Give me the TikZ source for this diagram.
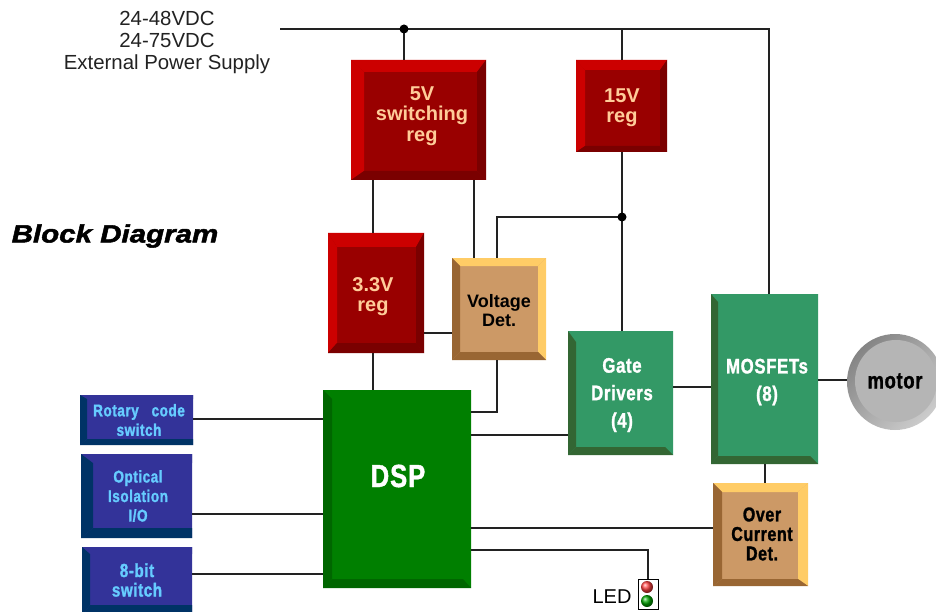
\documentclass[tikz,border=0pt]{standalone}
\usepackage{fontspec}
\setmainfont{Liberation Sans}
\newfontfamily\cnd{Liberation Sans}[FakeStretch=0.8,LetterSpace=3,FakeBold=1.3]
\newfontfamily\wideb{Liberation Sans}[FakeStretch=1.18,FakeBold=2]
\definecolor{redT}{HTML}{CC0000}\colorlet{redL}{redT}
\definecolor{redF}{HTML}{990000}
\definecolor{redB}{HTML}{7A0000}\colorlet{redR}{redB}
\definecolor{tanT}{HTML}{FFCC66}\colorlet{tanR}{tanT}
\definecolor{tanF}{HTML}{CC9966}
\definecolor{tanL}{HTML}{996633}\colorlet{tanB}{tanL}
\definecolor{seaF}{HTML}{339966}\colorlet{seaT}{seaF}\colorlet{seaR}{seaF}
\definecolor{seaL}{HTML}{336633}\colorlet{seaB}{seaL}
\definecolor{dspF}{HTML}{007F00}\colorlet{dspT}{dspF}\colorlet{dspR}{dspF}
\definecolor{dspL}{HTML}{006600}\colorlet{dspB}{dspL}
\definecolor{bluF}{HTML}{333399}\colorlet{bluT}{bluF}\colorlet{bluR}{bluF}
\definecolor{bluL}{HTML}{003366}\colorlet{bluB}{bluL}
\definecolor{peach}{HTML}{FFCC99}
\definecolor{sky}{HTML}{66CCFF}
\definecolor{wirec}{HTML}{222222}
% \bevbox{name}{x1}{y1}{x2}{y2}{inner l}{inner t}{inner r}{inner b}, palette in \pal
\newcommand{\bevbox}[9]{%
  \node[fill=\pal F,inner sep=0pt,anchor=north west,
        minimum width={(#4-#2)*1pt},minimum height={(#5-#3)*1pt}] (#1) at (#2,#3) {};
  \fill[\pal T] (#2,#3) -- (#4,#3) -- (#8,#7) -- (#6,#7) -- cycle;
  \fill[\pal R] (#4,#3) -- (#4,#5) -- (#8,#9) -- (#8,#7) -- cycle;
  \fill[\pal L] (#2,#3) -- (#2,#5) -- (#6,#9) -- (#6,#7) -- cycle;
  \fill[\pal B] (#2,#5) -- (#4,#5) -- (#8,#9) -- (#6,#9) -- cycle;
}
\tikzset{
  wire/.style={draw=wirec,line width=1.6pt},
  jdot/.style={circle,fill=black,inner sep=0pt,minimum size=9pt},
  lbl/.style={align=center,inner sep=0pt},
  regt/.style={lbl,text=peach,font=\fontsize{20}{20.5}\selectfont\bfseries},
  dett/.style={lbl,text=black,font=\fontsize{18}{19}\selectfont\bfseries},
  sea/.style={lbl,text=white,font=\fontsize{21}{27.5}\selectfont\cnd\bfseries},
  blu/.style={lbl,text=sky,font=\fontsize{17}{19.5}\selectfont\cnd\bfseries},
}
\begin{document}
\begin{tikzpicture}[x=1pt,y=-1pt]
\useasboundingbox (0,0) rectangle (936,612);
% wire channels
\foreach \n/\v in {v373/373,v404/404,v474/474,v497/497,v622/622,v769/769,v765/765,v648/648}
  \coordinate (\n) at (\v,0);
\foreach \n/\v in {h29/29,h217/217,h333/333,h387/387,h380/380,h412/412,h435/435,h419/419,h514/514,h574/574,h528/528,h550/550}
  \coordinate (\n) at (0,\v);
% boxes
\def\pal{red}
\bevbox{five}{351}{60}{486}{180}{364}{72}{477}{171}
\bevbox{fifteen}{576}{60}{667}{152}{585}{70}{660}{146}
\bevbox{three}{328}{233}{424}{353}{337}{247}{416}{343}
\def\pal{tan}
\bevbox{vdet}{452}{258}{546}{360}{460}{266}{538}{352}
\bevbox{ocd}{713}{483}{808}{586}{722}{492}{798}{579}
\def\pal{dsp}
\bevbox{dsp}{323}{390}{471}{588}{332}{399}{463}{579}
\def\pal{sea}
\bevbox{gate}{568}{331}{673}{455}{576}{342}{665}{447}
\bevbox{mos}{711}{294}{818}{464}{718}{302}{810}{456}
\def\pal{blu}
\bevbox{rot}{80}{395}{193}{445}{87}{399}{193}{439}
\bevbox{opt}{81}{454}{192}{538}{93}{463}{192}{528}
\bevbox{bit}{82}{547}{192}{616}{90}{554}{192}{605}
% motor
\node[circle,minimum size=96pt,inner sep=0pt,left color=black!48,right color=black!20,shading angle=45] (motor) at (895,382) {};
\fill[black!29] (896,381) circle (41);
% LED lamp
\node[draw=black,line width=0.7pt,fill=white,minimum width=20pt,minimum height=30pt,inner sep=0pt] (lamp) at (648,594) {};
\shade[ball color=red!75!white] (647,587) circle (6);
\shade[ball color=green!65!black] (647,601) circle (6);
% labels
\node[lbl,text=wirec,font=\fontsize{20.4}{22}\selectfont] (supply) at (167,42) {24-48VDC\\24-75VDC\\External Power Supply};
\node[lbl,text=black,font=\fontsize{25}{25}\selectfont\wideb\bfseries\itshape] (title) at (115,236) {Block Diagram};
\node[regt] (fivet) at (422,116) {5V\\switching\\reg};
\node[regt] (fifteent) at (622,107.5) {15V\\reg};
\node[regt] (threet) at (373,296.5) {3.3V\\reg};
\node[dett] (vdett) at (499,311) {Voltage\\Det.};
\node[lbl,text=white,font=\fontsize{32}{32}\selectfont\cnd\bfseries] (dspt) at (398,476) {DSP};
\node[sea] (gatet) at (622,395) {Gate\\Drivers\\(4)};
\node[sea] (most) at (767,382) {MOSFETs\\(8)};
\node[lbl,text=black,font=\fontsize{23}{23}\selectfont\cnd\bfseries] (motort) at (895,381) {motor};
\node[lbl,text=black,font=\fontsize{20}{19.5}\selectfont\cnd\bfseries] (ocdt) at (762,534) {Over\\Current\\Det.};
\node[blu] (rott) at (139,420) {Rotary\hspace{0.5em} code\\switch};
\node[blu] (optt) at (138,496) {Optical\\Isolation\\I/O};
\node[blu,font=\fontsize{19}{19.5}\selectfont\cnd\bfseries] (bitt) at (137,580) {8-bit\\switch};
\node[lbl,text=black,font=\fontsize{20}{20}\selectfont] (ledt) at (612,597) {LED};
% connectors
\coordinate (busstart) at (280,29);
\draw[wire,line join=miter] (busstart) -- (busstart -| v769) -- (mos.north -| v769);
\draw[wire] (h29 -| v404) -- (five.north -| v404);
\draw[wire] (h29 -| v622) -- (fifteen.north -| v622);
\draw[wire] (fifteen.south -| v622) -- (gate.north -| v622);
\draw[wire] (h217 -| v622) -- (h217 -| v497) -- (vdet.north -| v497);
\draw[wire] (five.south -| v373) -- (three.north -| v373);
\draw[wire] (five.south -| v474) -- (vdet.north -| v474);
\draw[wire] (three.south -| v373) -- (dsp.north -| v373);
\draw[wire] (three.east |- h333) -- (vdet.west |- h333);
\draw[wire] (vdet.south -| v497) -- (h412 -| v497) -- (dsp.east |- h412);
\draw[wire] (dsp.east |- h435) -- (gate.west |- h435);
\draw[wire] (gate.east |- h387) -- (mos.west |- h387);
\draw[wire] (mos.east |- h380) -- (motor.west |- h380);
\draw[wire] (mos.south -| v765) -- (ocd.north -| v765);
\draw[wire] (dsp.east |- h528) -- (ocd.west |- h528);
\draw[wire] (dsp.east |- h550) -- (h550 -| v648) -- (lamp.north -| v648);
\draw[wire] (rot.east |- h419) -- (dsp.west |- h419);
\draw[wire] (opt.east |- h514) -- (dsp.west |- h514);
\draw[wire] (bit.east |- h574) -- (dsp.west |- h574);
\node[jdot] (j1) at (h29 -| v404) {};
\node[jdot] (j2) at (h217 -| v622) {};
\end{tikzpicture}
\end{document}
